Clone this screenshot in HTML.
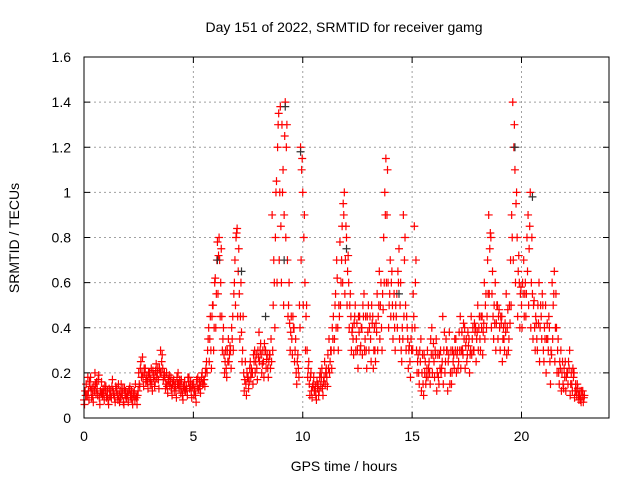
<!DOCTYPE html>
<html><head><meta charset="utf-8"><style>
body{margin:0;background:#fff}
svg{display:block;font-family:"Liberation Sans",sans-serif}
</style></head><body>
<svg id="chart" width="640" height="480" viewBox="0 0 640 480" xmlns="http://www.w3.org/2000/svg">
<text x="344" y="32" font-size="14" text-anchor="middle">Day 151 of 2022, SRMTID for receiver gamg</text>
<text transform="translate(19,238) rotate(-90)" font-size="14" text-anchor="middle">SRMTID / TECUs</text>
<text x="344" y="471" font-size="14" text-anchor="middle">GPS time / hours</text>
<g id="grid"></g>
<g id="ticks"></g>
<g id="pts"></g>
<g id="pts2"></g>
<rect x="84" y="57" width="525" height="361" fill="none" stroke="#000" stroke-width="1"/>
</svg>
<script>
const xTicks=[0,5,10,15,20];
const yTicks=[0,0.2,0.4,0.6,0.8,1,1.2,1.4,1.6];
const yTickLabels=["0","0.2","0.4","0.6","0.8","1","1.2","1.4","1.6"];
const step=0.1;
const valuesA=[0.08,0.15,0.12,0.18,0.1,0.2,0.13,0.09,0.16,0.11,
0.14,0.08,0.12,0.17,0.09,0.13,0.1,0.15,0.07,0.12,
0.1,0.14,0.08,0.12,0.09,0.2,0.25,0.18,0.22,0.16,
0.2,0.15,0.19,0.24,0.17,0.3,0.22,0.18,0.14,0.19,
0.13,0.17,0.12,0.2,0.15,0.1,0.16,0.13,0.18,0.12,
0.15,0.1,0.18,0.14,0.2,0.17,0.25,0.4,0.3,0.5,
0.62,0.78,0.7,0.45,0.28,0.22,0.35,0.3,0.45,0.7,
0.84,0.55,0.38,0.2,0.15,0.18,0.25,0.2,0.3,0.22,
0.38,0.28,0.25,0.3,0.22,0.28,0.9,0.6,1.05,1.35,
0.85,1.1,1.4,0.7,0.42,0.35,0.4,0.2,0.22,1.2,
1.0,0.6,0.3,0.15,0.12,0.18,0.1,0.15,0.2,0.13,
0.25,0.18,0.35,0.3,0.45,0.55,0.4,0.78,0.85,1.0,
0.8,0.6,0.45,0.35,0.5,0.3,0.45,0.4,0.55,0.3,
0.5,0.35,0.45,0.3,0.55,0.65,0.4,0.8,1.15,0.6,
0.7,0.5,0.4,0.55,0.75,0.3,0.9,0.5,0.35,0.25,
0.4,0.85,0.3,0.2,0.35,0.15,0.25,0.3,0.2,0.4,
0.25,0.35,0.18,0.3,0.45,0.2,0.3,0.38,0.15,0.28,
0.35,0.22,0.45,0.3,0.4,0.25,0.35,0.45,0.3,0.4,
0.5,0.35,0.45,0.6,0.4,0.9,0.8,0.45,0.6,0.5,
0.4,0.45,0.35,0.55,0.3,0.7,1.4,1.1,0.8,0.6,
0.5,0.7,0.45,0.9,1.0,0.55,0.4,0.35,0.6,0.45,
0.3,0.5,0.35,0.25,0.6,0.65,0.4,0.2,0.3,0.15,
0.25,0.2,0.3,0.15,0.2,0.12,0.1,0.08,0.12];
const valuesB=[0.12,0.1,0.16,0.09,0.14,0.11,0.17,0.12,0.1,0.14,
0.1,0.13,0.09,0.11,0.14,0.08,0.12,0.1,0.13,0.09,
0.12,0.09,0.11,0.15,0.1,0.14,0.2,0.22,0.17,0.2,
0.17,0.21,0.16,0.2,0.22,0.25,0.19,0.15,0.17,0.16,
0.15,0.14,0.18,0.13,0.17,0.14,0.12,0.18,0.14,0.15,
0.12,0.17,0.13,0.16,0.15,0.2,0.3,0.35,0.45,0.4,
0.55,0.72,0.6,0.35,0.25,0.3,0.28,0.4,0.55,0.8,
0.65,0.45,0.3,0.17,0.2,0.16,0.22,0.28,0.25,0.3,
0.3,0.24,0.33,0.26,0.25,0.35,0.5,0.8,1.2,1.0,
1.3,0.9,1.2,0.5,0.38,0.45,0.3,0.25,0.5,1.1,
0.8,0.45,0.22,0.18,0.14,0.12,0.16,0.12,0.18,0.16,
0.2,0.28,0.25,0.4,0.35,0.7,0.5,0.6,0.95,0.7,
0.65,0.5,0.38,0.42,0.35,0.45,0.32,0.5,0.35,0.45,
0.4,0.5,0.3,0.42,0.45,0.5,0.55,1.0,0.9,0.5,
0.6,0.45,0.5,0.65,0.5,0.4,0.7,0.45,0.3,0.35,
0.55,0.6,0.25,0.3,0.2,0.28,0.18,0.22,0.35,0.28,
0.3,0.2,0.28,0.22,0.3,0.35,0.25,0.2,0.3,0.35,
0.28,0.38,0.3,0.42,0.32,0.38,0.28,0.35,0.42,0.35,
0.4,0.45,0.38,0.5,0.7,0.75,0.55,0.5,0.42,0.45,
0.45,0.35,0.42,0.4,0.5,0.9,1.2,0.95,0.65,0.55,
0.6,0.55,0.8,0.75,0.6,0.5,0.45,0.5,0.4,0.55,
0.4,0.35,0.45,0.3,0.5,0.4,0.3,0.25,0.2,0.22,
0.18,0.25,0.15,0.22,0.12,0.15,0.1,0.12,0.09];
const valuesC=[0.06,0.1,0.08,0.12,0.07,0.15,0.1,0.06,0.11,0.08,
0.09,0.06,0.1,0.12,0.07,0.1,0.07,0.11,0.06,0.09,
0.07,0.1,0.06,0.08,0.06,0.15,0.18,0.14,0.16,0.13,
0.15,0.12,0.14,0.18,0.13,0.2,0.17,0.13,0.11,0.14,
0.1,0.12,0.09,0.15,0.11,0.08,0.12,0.1,0.13,0.09,
0.1,0.07,0.13,0.11,0.15,0.14,0.2,0.25,0.22,0.3,
0.4,0.55,0.45,0.3,0.2,0.18,0.25,0.22,0.3,0.5,
0.45,0.35,0.25,0.12,0.1,0.13,0.18,0.15,0.2,0.17,
0.25,0.2,0.18,0.22,0.18,0.22,0.3,0.4,0.6,0.7,
0.6,0.5,0.8,0.45,0.3,0.28,0.25,0.15,0.18,0.7,
0.5,0.3,0.18,0.1,0.09,0.12,0.08,0.1,0.14,0.1,
0.15,0.14,0.2,0.22,0.3,0.4,0.3,0.5,0.6,0.55,
0.5,0.4,0.3,0.28,0.3,0.22,0.3,0.28,0.3,0.22,
0.3,0.25,0.22,0.25,0.3,0.35,0.3,0.6,0.6,0.4,
0.45,0.35,0.3,0.4,0.35,0.25,0.45,0.3,0.22,0.18,
0.3,0.4,0.2,0.15,0.12,0.1,0.15,0.18,0.15,0.2,
0.18,0.12,0.15,0.2,0.15,0.25,0.12,0.15,0.2,0.22,
0.2,0.25,0.22,0.28,0.22,0.28,0.2,0.28,0.3,0.25,
0.3,0.3,0.28,0.35,0.45,0.55,0.4,0.35,0.3,0.35,
0.3,0.25,0.3,0.28,0.35,0.5,0.7,0.6,0.45,0.4,
0.4,0.45,0.55,0.5,0.4,0.35,0.3,0.3,0.25,0.35,
0.25,0.2,0.3,0.15,0.35,0.25,0.2,0.15,0.12,0.13,
0.12,0.15,0.1,0.12,0.09,0.1,0.08,0.07,0.07];
const valuesD=[0.1,0.18,0.14,0.13,0.12,0.16,0.19,0.11,0.13,0.12,
0.12,0.1,0.14,0.1,0.12,0.15,0.09,0.13,0.1,0.11,
0.13,0.12,0.1,0.1,0.12,0.22,0.27,0.2,0.19,0.18,
0.22,0.18,0.21,0.22,0.2,0.28,0.2,0.2,0.16,0.18,
0.16,0.15,0.15,0.17,0.13,0.13,0.14,0.16,0.16,0.14,
0.13,0.14,0.16,0.18,0.17,0.22,0.35,0.45,0.5,0.6,
0.7,0.8,0.75,0.4,0.3,0.25,0.32,0.35,0.6,0.82,
0.75,0.6,0.45,0.25,0.18,0.22,0.2,0.25,0.28,0.27,
0.33,0.3,0.3,0.28,0.28,0.25,0.7,1.0,1.3,1.38,
1.0,1.25,1.3,0.6,0.45,0.4,0.35,0.28,0.4,1.15,
0.9,0.5,0.25,0.2,0.15,0.14,0.13,0.18,0.22,0.18,
0.22,0.22,0.3,0.35,0.5,0.62,0.45,0.7,0.9,0.85,
0.72,0.55,0.4,0.45,0.42,0.38,0.4,0.45,0.45,0.38,
0.45,0.42,0.4,0.38,0.5,0.6,0.48,0.9,1.1,0.55,
0.65,0.55,0.45,0.6,0.6,0.35,0.8,0.4,0.32,0.3,
0.45,0.7,0.28,0.25,0.28,0.2,0.22,0.25,0.28,0.33,
0.28,0.28,0.22,0.25,0.38,0.3,0.28,0.3,0.25,0.3,
0.3,0.3,0.38,0.35,0.35,0.32,0.3,0.4,0.38,0.38,
0.45,0.4,0.42,0.55,0.55,0.82,0.65,0.42,0.5,0.48,
0.42,0.4,0.38,0.48,0.42,0.8,1.3,1.0,0.72,0.58,
0.55,0.6,0.65,0.85,0.8,0.52,0.42,0.42,0.5,0.5,
0.35,0.42,0.4,0.28,0.55,0.55,0.35,0.22,0.25,0.18,
0.2,0.22,0.2,0.18,0.15,0.13,0.12,0.1,0.1];
const grayTimes=[6.1,7.2,8.3,9.15,9.2,9.9,12.0,14.4,19.7,20.5];
const grayValues=[0.7,0.65,0.45,0.7,1.38,1.18,0.75,0.55,1.2,0.98];
const X0=84,X1=609,Y0=418,Y1=57,XMAX=24,YMAX=1.6;
const xs=v=>X0+(X1-X0)*v/XMAX;
const ys=v=>Y0-(Y0-Y1)*v/YMAX;
const NS='http://www.w3.org/2000/svg';
function mk(tag,attrs,parent){const e=document.createElementNS(NS,tag);for(const k in attrs)e.setAttribute(k,attrs[k]);parent.appendChild(e);return e;}
const grid=document.getElementById('grid'),ticks=document.getElementById('ticks');
xTicks.forEach(t=>{
  const x=xs(t);
  if(t>0){const g=mk('line',{x1:x,x2:x,y1:Y0,y2:Y1,stroke:'#a0a0a0','stroke-dasharray':'2,3'},grid);
  
  }
  mk('line',{x1:x,x2:x,y1:Y0,y2:Y0-6,stroke:'#000'},ticks);
  mk('line',{x1:x,x2:x,y1:Y1,y2:Y1+6,stroke:'#000'},ticks);
  const l=mk('text',{x:x,y:Y0+23,'font-size':14,'text-anchor':'middle'},ticks);
  l.textContent=t;
  
  
});
yTicks.forEach((t,i)=>{
  const y=ys(t);
  if(t>0&&t<YMAX){const g=mk('line',{x1:X0,x2:X1,y1:y,y2:y,stroke:'#a0a0a0','stroke-dasharray':'2,3'},grid);
  
  }
  mk('line',{x1:X0,x2:X0+6,y1:y,y2:y,stroke:'#000'},ticks);
  mk('line',{x1:X1,x2:X1-6,y1:y,y2:y,stroke:'#000'},ticks);
  const l=mk('text',{x:X0-13,y:y+5,'font-size':14,'text-anchor':'end'},ticks);
  l.textContent=yTickLabels[i];
  
  
});
function plus(g,t,v,color){
  const x=xs(t),y=ys(v);
  const p=mk('path',{d:`M${x-4},${y}h8M${x},${y-4}v8`,stroke:color,'stroke-width':1.2,fill:'none'},g);
  
  
}
const pts=document.getElementById('pts'),pts2=document.getElementById('pts2');
grayTimes.forEach((t,i)=>plus(pts2,t,grayValues[i],'#333'));
valuesA.forEach((v,i)=>plus(pts,i*step,v,'#ff0000'));
valuesC.forEach((v,i)=>plus(pts,i*step+step/4,v,'#ff0000'));
valuesB.forEach((v,i)=>plus(pts,i*step+step/2,v,'#ff0000'));
valuesD.forEach((v,i)=>plus(pts,i*step+3*step/4,v,'#ff0000'));
</script>
</body></html>
